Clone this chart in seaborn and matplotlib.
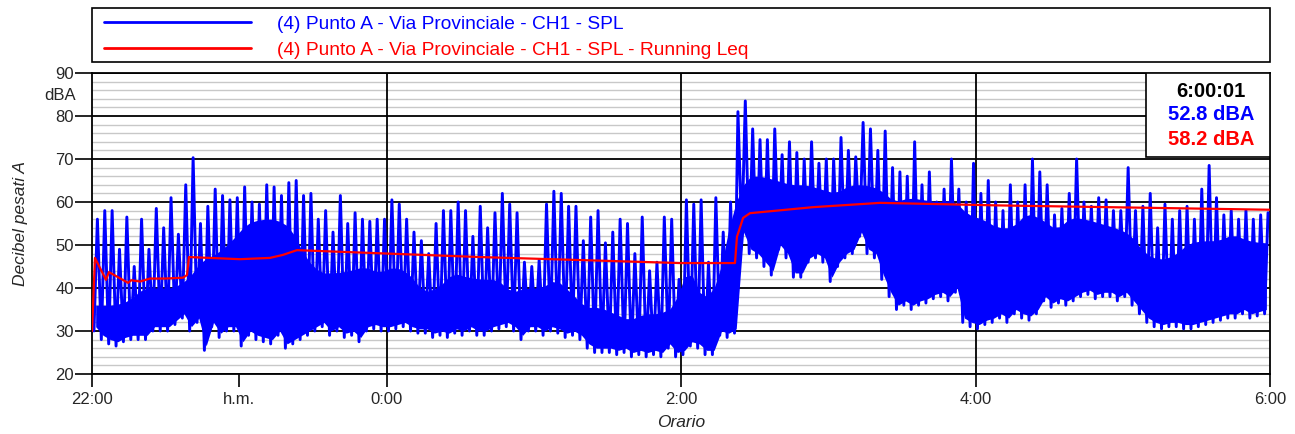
import numpy as np
import pandas as pd
import matplotlib
matplotlib.use("Agg")
import matplotlib.pyplot as plt
import seaborn as sns
from matplotlib.lines import Line2D
from matplotlib.patches import Rectangle

# SPL in 3-minute bins from 22:00 (160 bins): floor / peak in dBA
spl_lo = [30, 28, 27, 26.5, 27.5, 28, 28, 28, 30, 30,
          30, 31.5, 33, 30, 32, 25.5, 31, 28.5, 30, 30,
          26.5, 29, 28, 27.5, 27, 29, 26, 27, 28, 29,
          30, 31, 29, 30, 28.5, 29, 27.5, 30, 30.5, 30,
          30, 30.5, 31, 30, 29.5, 29.5, 28.5, 29, 28.5, 29.5,
          29, 30, 29, 29, 30, 30.5, 31, 30, 28, 30,
          30, 29, 30, 29.5, 28.5, 29, 28, 26, 25, 25,
          25, 24.5, 25, 24, 24.5, 24, 24.5, 24, 26, 24,
          24.5, 26.5, 26, 24.5, 24.5, 29, 28.5, 29.5, 52, 48,
          47, 45, 43, 49, 47, 42.5, 42.5, 46, 47, 46,
          41.5, 45, 47, 48, 52, 48, 47, 42, 38, 35,
          36, 35, 36, 36.5, 37.5, 38, 37, 39, 32, 31,
          30.5, 31.5, 32, 33, 32, 34, 33, 32.5, 34, 37,
          35.5, 36.5, 36, 37, 38, 38.5, 37.5, 38, 38, 37,
          38, 36, 34, 32, 31, 30.5, 31, 31, 30.5, 30.5,
          31, 31.5, 32, 32.5, 33, 33, 34, 33, 33.5, 34]
spl_hi = [56, 58, 58, 49, 56.5, 45, 56, 49, 58.5, 54,
          61, 52.5, 64, 70.3, 55, 59, 63, 61.5, 60.5, 61,
          63.5, 60, 59.5, 64, 63.5, 61.5, 64.5, 65, 61.5, 62,
          56, 58, 53, 61.5, 55, 57.5, 56, 55.5, 56, 56,
          60.5, 59.5, 56, 53, 51, 48, 55, 58, 58, 60,
          58, 52, 59, 54, 57.5, 62, 59.5, 57.5, 46, 45,
          46.5, 59.5, 62.5, 62, 59, 59, 51, 56.5, 58, 50.5,
          53, 56, 55, 48, 56.5, 44, 46, 56.5, 56, 42,
          60.5, 59.5, 60.5, 46, 61, 53, 60, 81, 83.5, 77,
          74.5, 74.5, 77, 71, 74, 71.5, 70, 74, 69, 70,
          70, 75, 72, 70.5, 78.5, 77, 72, 76.5, 68, 67,
          66, 74, 64, 67, 60, 63, 70, 63, 60, 69,
          62, 65, 60, 58, 64, 60, 64, 70, 67, 64,
          57, 58.5, 62, 70, 60, 59, 61, 60.5, 58, 58,
          68, 58, 59, 62, 54, 59.5, 56, 58, 59, 56,
          63, 68.5, 61, 57, 58, 56, 58, 56, 57, 57.5]

# upper edge of the dense part of the SPL trace, 6-minute bins (80 bins)
spl_body = [36, 36, 37, 40, 40, 40, 42, 46.5, 48, 51,
            55, 56, 56, 54, 47, 43.5, 43.5, 44, 45, 43.5,
            45, 43.5, 39, 40, 43.5, 42.5, 42, 42, 39, 40,
            40, 42, 39, 35.5, 35.5, 34, 32.5, 34, 34, 35.5,
            45, 37, 41, 58, 66, 66, 65, 64, 64, 63,
            62, 64, 64, 63, 60, 61, 60.5, 60, 60.5, 57,
            56, 54, 54, 57.5, 56, 53.5, 56.5, 56, 55, 54,
            52.5, 48, 46.5, 47.5, 50.5, 51, 51, 52.5, 51, 50.5]

# running Leq breakpoints (minutes after 22:00, dBA)
leq_min = [0, 1.2, 5.7, 6.9, 14.7, 16, 19.6, 23.6, 29.7, 37.1, 38.7, 39.5,
           60.3, 72.5, 77.8, 83.5, 158, 239.6, 262, 262.8, 265.3, 268.1,
           293.8, 321.1, 370, 480]
leq_db = [30, 47, 41.9, 43.7, 41.2, 41.8, 41.5, 42.2, 42.2, 42.4, 43.0, 47.2,
          46.7, 47.0, 47.7, 48.8, 47.2, 45.8, 45.8, 51.9, 56.3, 57.4,
          58.8, 59.8, 59.2, 58.2]

tick_hours = [0, 1, 2, 4, 6, 8]
tick_labels = ["22:00", "h.m.", "0:00", "2:00", "4:00", "6:00"]

label_spl = "(4) Punto A - Via Provinciale - CH1 - SPL"
label_leq = "(4) Punto A - Via Provinciale - CH1 - SPL - Running Leq"
cursor_time = "6:00:01"
cursor_spl = 52.8
cursor_leq = 58.2

BLUE = "#0000ff"
RED = "#ff0000"

# zigzag floor/peak inside each 3-min bin
bins = np.arange(len(spl_lo)) * 3.0
spl = pd.DataFrame({
    "hours": np.column_stack([bins + 0.8, bins + 2.2]).ravel() / 60.0,
    "dba": np.column_stack([spl_lo, spl_hi]).ravel(),
})
# dense band: floor of the 3-min bins up to the 6-min body edge
body_t = (np.arange(len(spl_body)) * 6.0 + 3.0) / 60.0
band_t = (bins + 1.5) / 60.0
band_top = np.interp(band_t, body_t, spl_body)
band_bot = np.minimum(np.array(spl_lo) + 1.0, band_top)
leq = pd.DataFrame({"hours": np.array(leq_min) / 60.0, "dba": leq_db})

sns.set_theme(style="white")
plt.rcParams["font.family"] = ["Liberation Sans", "DejaVu Sans"]

fig = plt.figure(figsize=(12.95, 4.34), dpi=100)
ax = fig.add_axes([92 / 1295, 1 - 374 / 434, 1178 / 1295, 301 / 434])

ax.fill_between(band_t, band_bot, band_top, color=BLUE, linewidth=0, zorder=3)
sns.lineplot(data=spl, x="hours", y="dba", color=BLUE, linewidth=2.1,
             estimator=None, ax=ax, zorder=3)
sns.lineplot(data=leq, x="hours", y="dba", color=RED, linewidth=1.6,
             estimator=None, ax=ax, zorder=4)

ax.set_xlim(0, 8)
ax.set_ylim(20, 90)
ax.set_yticks(np.arange(20, 91, 10))
ax.set_yticks(np.arange(20, 91, 2), minor=True)
ax.set_xticks(tick_hours)
ax.set_xticklabels(tick_labels)

ax.grid(which="minor", axis="y", color="#c8c8c8", linewidth=1.0)
ax.grid(which="major", axis="y", color="black", linewidth=1.3)
ax.grid(which="major", axis="x", color="black", linewidth=1.3)
for i in (0, 1, 5):
    ax.xaxis.get_major_ticks()[i].gridline.set_visible(False)
ax.xaxis.get_major_ticks()[1].tick1line.set_visible(False)
ax.yaxis.get_major_ticks()[-1].tick1line.set_visible(False)
ax.set_axisbelow(True)
ax.xaxis.set_zorder(0.6)

ax.tick_params(axis="y", which="major", length=12, width=1.2, color="black",
               pad=1, labelsize=12, left=True)
ax.tick_params(axis="y", which="minor", length=0)
ax.tick_params(axis="x", length=9, width=1.2, color="black", pad=4,
               labelsize=12, bottom=True)
for s in ax.spines.values():
    s.set_color("black")
    s.set_linewidth(1.3)

ax.set_xlabel("Orario", fontsize=12.5, style="italic", labelpad=6)
ax.set_ylabel("Decibel pesati A", fontsize=12.5, style="italic", labelpad=20)
ax.text(-0.014, 0.925, "dBA", transform=ax.transAxes, ha="right", va="center",
        fontsize=12)

# cursor readout box
ax.add_patch(Rectangle((0.8947, 0.721), 0.1053, 0.279, transform=ax.transAxes,
                       facecolor="white", edgecolor="black", linewidth=1.2,
                       zorder=5))
ax.text(0.95, 0.94, cursor_time, transform=ax.transAxes, ha="center",
        va="center", fontsize=14.5, fontweight="bold", color="black", zorder=6)
ax.text(0.95, 0.862, f"{cursor_spl:.1f} dBA", transform=ax.transAxes,
        ha="center", va="center", fontsize=14.5, fontweight="bold", color=BLUE,
        zorder=6)
ax.text(0.95, 0.78, f"{cursor_leq:.1f} dBA", transform=ax.transAxes,
        ha="center", va="center", fontsize=14.5, fontweight="bold", color=RED,
        zorder=6)

# legend box above the plot
fig.patches.append(Rectangle((92 / 1295, 1 - 62 / 434), 1178 / 1295, 54 / 434,
                             transform=fig.transFigure, facecolor="white",
                             edgecolor="black", linewidth=1.2))
handles = [Line2D([], [], color=BLUE, linewidth=2),
           Line2D([], [], color=RED, linewidth=2)]
fig.legend(handles, [label_spl, label_leq], loc="upper left",
           bbox_to_anchor=(99 / 1295, 1 - 11 / 434), frameon=False,
           fontsize=13.8, handlelength=7.7, handletextpad=1.35,
           labelspacing=0.42, borderpad=0.25, borderaxespad=0,
           labelcolor="linecolor")

fig.savefig("out.png", dpi=100)
